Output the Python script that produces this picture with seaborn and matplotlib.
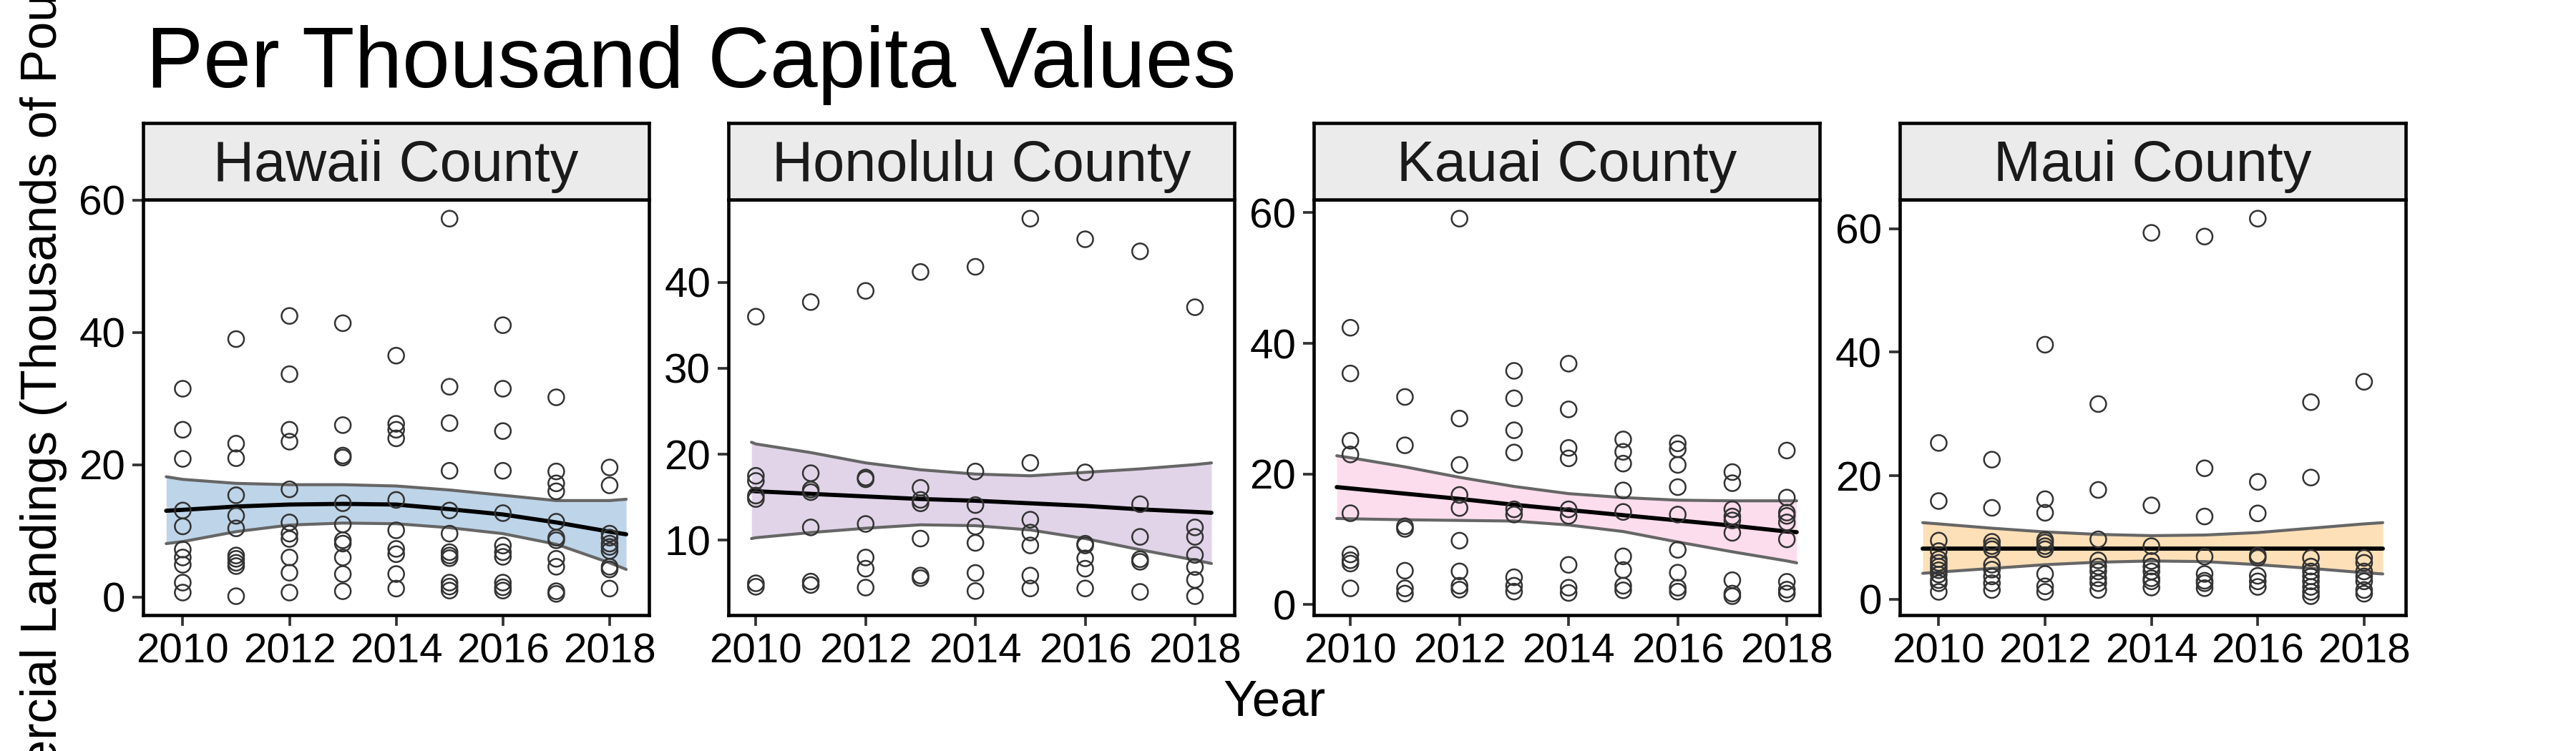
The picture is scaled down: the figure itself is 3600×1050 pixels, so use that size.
import matplotlib
matplotlib.use("Agg")
import matplotlib.pyplot as plt
import seaborn as sns
import pandas as pd

# ---- data ----
years = [2010, 2011, 2012, 2013, 2014, 2015, 2016, 2017, 2018]
counties = ["Hawaii County", "Honolulu County", "Kauai County", "Maui County"]

hawaii_pts = [
    [31.5, 25.3, 20.9, 13.1, 10.7, 7.2, 6.0, 4.9, 2.2, 0.7],
    [39.0, 23.2, 21.0, 15.4, 12.3, 10.4, 6.3, 5.8, 5.2, 4.7, 0.15],
    [42.5, 33.7, 25.3, 23.5, 16.3, 11.3, 9.6, 8.8, 6.0, 3.7, 0.7],
    [41.4, 26.0, 21.4, 21.1, 14.2, 11.0, 8.6, 8.1, 6.0, 3.5, 0.9],
    [36.5, 26.2, 25.3, 24.0, 14.7, 10.1, 7.3, 6.5, 3.5, 1.3],
    [57.2, 31.8, 26.3, 19.1, 13.1, 9.6, 6.8, 6.3, 5.9, 2.2, 1.6, 1.0],
    [41.1, 31.5, 25.1, 19.1, 12.7, 7.8, 6.8, 6.1, 2.2, 1.5, 1.0],
    [30.2, 19.0, 17.2, 16.0, 11.4, 9.0, 8.6, 5.8, 4.6, 0.9, 0.5],
    [19.6, 16.9, 9.6, 9.0, 8.1, 7.6, 7.0, 4.6, 4.2, 1.3],
]
honolulu_pts = [
    [36.0, 17.5, 16.9, 15.2, 14.8, 5.0, 4.6],
    [37.7, 17.8, 15.9, 15.6, 11.5, 5.2, 4.8],
    [39.0, 17.3, 17.1, 11.9, 8.0, 6.7, 4.5],
    [41.2, 16.1, 14.7, 14.3, 10.2, 5.9, 5.6],
    [41.8, 18.0, 14.1, 11.6, 9.7, 6.2, 4.1],
    [47.4, 19.0, 12.4, 10.9, 9.4, 5.9, 4.4],
    [45.0, 17.9, 9.6, 9.4, 7.9, 6.7, 4.4],
    [43.6, 14.2, 10.4, 7.8, 7.5, 4.0],
    [37.1, 11.5, 10.4, 8.3, 6.9, 5.4, 3.5],
]
kauai_pts = [
    [42.4, 35.4, 25.1, 23.0, 14.0, 7.7, 6.8, 6.3, 2.5],
    [31.8, 24.4, 12.0, 11.6, 5.2, 2.5, 1.7],
    [59.1, 28.5, 21.4, 16.8, 14.8, 9.8, 5.1, 2.9, 2.3],
    [35.8, 31.6, 26.7, 23.3, 14.6, 13.8, 4.2, 2.9, 2.0],
    [36.9, 29.9, 24.0, 22.4, 14.6, 13.6, 6.1, 2.6, 1.8],
    [25.3, 23.4, 21.6, 17.5, 14.2, 7.4, 5.3, 2.9, 2.2],
    [24.7, 23.8, 21.4, 18.0, 13.8, 8.4, 4.9, 2.6, 2.0],
    [20.3, 18.6, 14.6, 13.5, 12.9, 11.0, 3.75, 1.7, 1.3],
    [23.6, 16.4, 14.1, 13.6, 12.6, 10.0, 3.5, 2.3, 1.7],
]
maui_pts = [
    [25.3, 15.9, 9.5, 7.8, 6.5, 5.9, 5.3, 4.7, 4.0, 3.1, 2.6, 1.2],
    [22.6, 14.8, 9.3, 8.6, 8.1, 5.6, 4.8, 3.7, 2.6, 1.5],
    [41.2, 16.2, 14.0, 9.6, 9.2, 8.6, 8.1, 4.1, 2.1, 1.2],
    [31.6, 17.7, 9.7, 6.3, 5.3, 4.5, 3.4, 2.6, 1.5],
    [59.3, 15.2, 8.6, 6.2, 5.3, 4.5, 3.4, 2.9, 1.9],
    [58.7, 21.2, 13.4, 6.9, 4.1, 3.0, 2.6, 1.8],
    [61.6, 19.0, 13.9, 7.1, 6.7, 3.8, 2.9, 2.0],
    [31.9, 19.7, 6.7, 5.3, 4.5, 3.7, 2.9, 2.0, 1.2, 0.5],
    [35.2, 6.7, 5.9, 4.5, 3.7, 2.9, 1.5, 0.9],
]

# smoother (fit + confidence band)
hawaii_fit_x = [2009.69] + years + [2018.31]
hawaii_fit = [13.06, 13.2, 13.7, 14.0, 14.1, 14.0, 13.3, 12.5, 11.3, 9.9, 9.5]
hawaii_hi = [18.2, 17.8, 17.2, 17.0, 17.0, 16.8, 16.2, 15.4, 14.6, 14.6, 14.8]
hawaii_lo = [8.1, 8.4, 9.9, 10.9, 11.2, 11.1, 10.5, 9.6, 8.0, 5.2, 4.2]

honolulu_fit_x = [2009.92] + years + [2018.3]
honolulu_fit = [15.75, 15.7, 15.4, 15.1, 14.8, 14.6, 14.3, 14.0, 13.6, 13.3, 13.2]
honolulu_hi = [21.4, 21.2, 20.2, 19.0, 18.2, 17.7, 17.5, 17.9, 18.3, 18.8, 19.0]
honolulu_lo = [10.2, 10.3, 10.9, 11.4, 11.8, 11.7, 11.2, 10.2, 8.9, 7.7, 7.3]

kauai_fit_x = [2009.75] + years + [2018.18]
kauai_fit = [18.0, 17.8, 17.0, 16.2, 15.3, 14.5, 13.7, 12.9, 12.1, 11.2, 11.1]
kauai_hi = [22.8, 22.5, 21.1, 19.5, 18.1, 17.0, 16.4, 16.0, 15.9, 15.9, 15.9]
kauai_lo = [13.2, 13.15, 13.0, 12.9, 12.8, 12.2, 11.2, 9.6, 8.1, 6.7, 6.4]

maui_fit_x = [2009.7] + years + [2018.35]
maui_fit = [8.2, 8.2, 8.2, 8.2, 8.2, 8.2, 8.2, 8.2, 8.2, 8.2, 8.2]
maui_hi = [12.4, 12.2, 11.5, 10.9, 10.5, 10.3, 10.4, 10.8, 11.5, 12.2, 12.4]
maui_lo = [4.2, 4.4, 5.0, 5.6, 6.0, 6.2, 6.1, 5.6, 5.0, 4.3, 4.1]

band_colors = ["#BED4E8", "#E1D4E9", "#FCDDED", "#FDE0B7"]
yticks = [[0, 20, 40, 60], [10, 20, 30, 40], [0, 20, 40, 60], [0, 20, 40, 60]]
xticks = [2010, 2012, 2014, 2016, 2018]

all_pts = [hawaii_pts, honolulu_pts, kauai_pts, maui_pts]
fits = [
    (hawaii_fit_x, hawaii_fit, hawaii_lo, hawaii_hi),
    (honolulu_fit_x, honolulu_fit, honolulu_lo, honolulu_hi),
    (kauai_fit_x, kauai_fit, kauai_lo, kauai_hi),
    (maui_fit_x, maui_fit, maui_lo, maui_hi),
]

sns.set_style("white")
plt.rcParams["font.family"] = ["Liberation Sans", "DejaVu Sans"]
plt.rcParams["text.color"] = "black"

fig = plt.figure(figsize=(12, 3.5), dpi=300)

lefts = [0.0556, 0.2828, 0.510, 0.7375]
width = 0.1964
bottom, height = 0.181, 0.553
strip_h = 0.102

for i, county in enumerate(counties):
    ax = fig.add_axes([lefts[i], bottom, width, height])
    rows = [(yr, v) for yr, vals in zip(years, all_pts[i]) for v in vals]
    df = pd.DataFrame(rows, columns=["Year", "Value"])

    fx, fm, flo, fhi = fits[i]
    ax.fill_between(fx, flo, fhi, color=band_colors[i], lw=0, zorder=1)
    sns.lineplot(x=fx, y=flo, color="#666666", lw=1.0, ax=ax, zorder=2)
    sns.lineplot(x=fx, y=fhi, color="#666666", lw=1.0, ax=ax, zorder=2)
    sns.lineplot(x=fx, y=fm, color="black", lw=1.4, ax=ax, zorder=3)
    sns.scatterplot(data=df, x="Year", y="Value", ax=ax, s=28,
                    facecolor="none", edgecolor="#333333", linewidth=0.6,
                    zorder=4)

    ax.margins(x=0.05, y=0.05)
    ax.set_xticks(xticks)
    ax.set_yticks(yticks[i])
    ax.set_xlabel("")
    ax.set_ylabel("")
    ax.tick_params(axis="both", direction="out", length=3.5, width=0.9,
                   color="#333333", labelsize=14, pad=2.5, labelcolor="black")
    ax.tick_params(axis="x", bottom=True)
    ax.tick_params(axis="y", left=True)
    for sp in ax.spines.values():
        sp.set_visible(True)
        sp.set_color("black")
        sp.set_linewidth(1.1)

    # facet strip
    sax = fig.add_axes([lefts[i], bottom + height, width, strip_h])
    sax.set_facecolor("#EBEBEB")
    sax.set_xticks([])
    sax.set_yticks([])
    for sp in sax.spines.values():
        sp.set_visible(True)
        sp.set_color("black")
        sp.set_linewidth(1.1)
    sax.text(0.5, 0.44, county, ha="center", va="center", fontsize=19,
             color="#1A1A1A", transform=sax.transAxes)

fig.text(0.0567, 0.884, "Per Thousand Capita Values", fontsize=28.8,
         ha="left", va="baseline", color="black")
fig.text(0.4947, 0.0476, "Year", fontsize=17, ha="center", va="baseline",
         color="black")
fig.text(0.017, 0.46, "Commercial Landings (Thousands of Pounds)",
         fontsize=16.8, rotation=90, ha="center", va="center", color="black")

fig.savefig("out.png", dpi=300)
